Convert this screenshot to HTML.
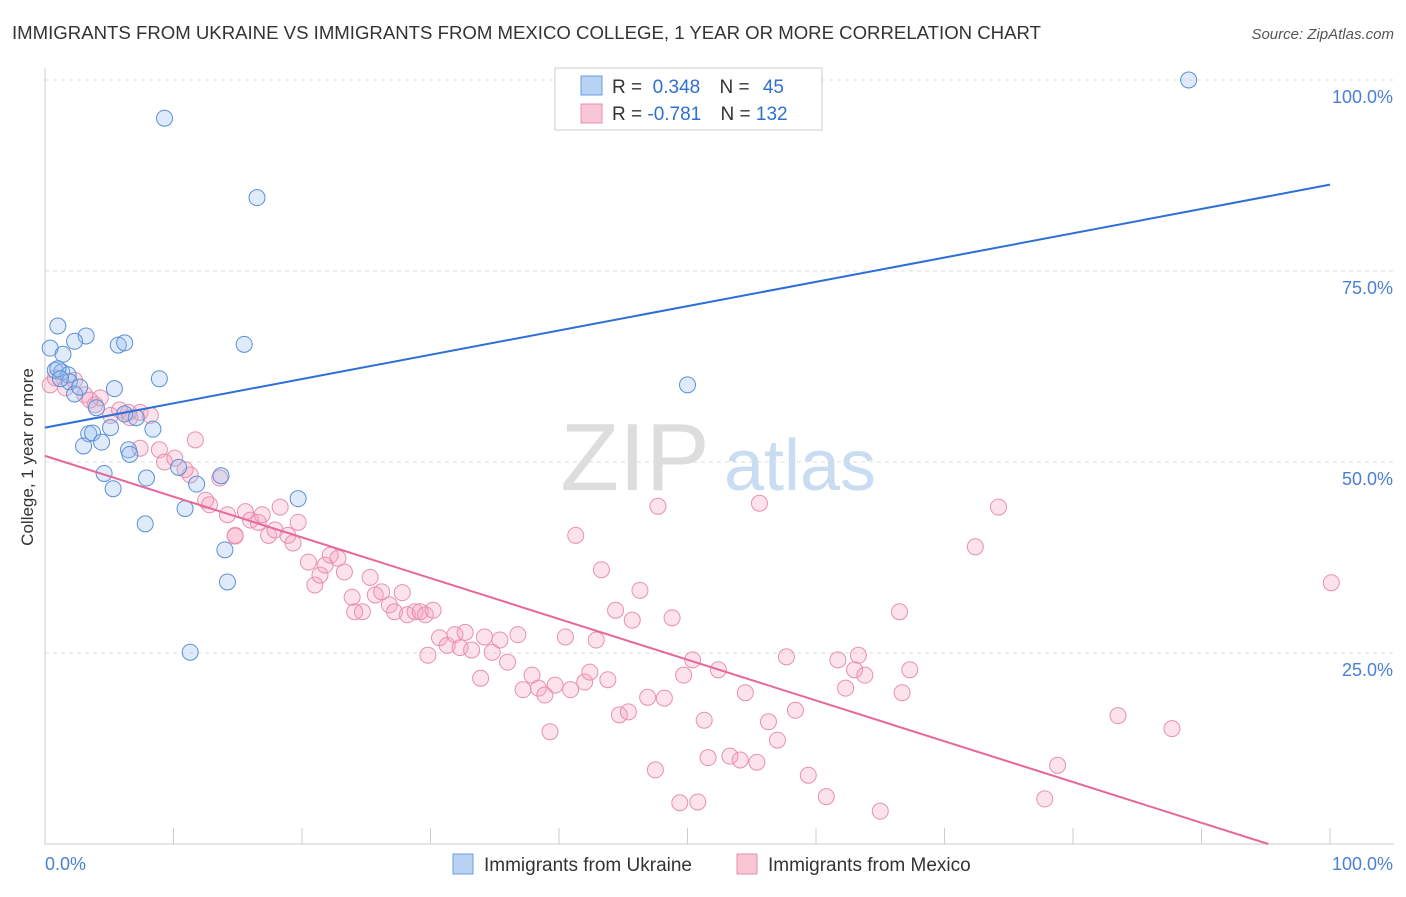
<!DOCTYPE html>
<html><head><meta charset="utf-8"><style>
body{margin:0;background:#fff;font-family:"Liberation Sans",sans-serif;}
svg text{font-family:"Liberation Sans",sans-serif;}
</style></head><body>
<svg id="chart" width="1406" height="892" viewBox="0 0 1406 892" xmlns="http://www.w3.org/2000/svg">
<text x="12" y="39" font-size="18.6" fill="#333">IMMIGRANTS FROM UKRAINE VS IMMIGRANTS FROM MEXICO COLLEGE, 1 YEAR OR MORE CORRELATION CHART</text>
<text x="1394" y="39" font-size="15" fill="#555" font-style="italic" text-anchor="end">Source: ZipAtlas.com</text>
<text x="635" y="490" font-size="96" fill="#ddd" font-family="Liberation Serif" text-anchor="middle">ZIP</text>
<text x="800" y="490" font-size="72" fill="#c8dcf2" text-anchor="middle">atlas</text>
<g id="grid"></g>
<g id="axes"></g>
<g id="pts"></g>
<g id="lines"></g>
<text x="33" y="457" font-size="17" fill="#333" text-anchor="middle" transform="rotate(-90 33 457)">College, 1 year or more</text>
<text x="45" y="870" font-size="18" fill="#4a7fd4">0.0%</text>
<text x="1393" y="870" font-size="18" fill="#4a7fd4" text-anchor="end">100.0%</text>
<g>
<rect x="555" y="68" width="267" height="62" fill="#fff" stroke="#ccc"/>
<rect x="581" y="76" width="21" height="19" fill="#b9d3f5" stroke="#6a9be0"/>
<rect x="581" y="104" width="21" height="19" fill="#f9c6d6" stroke="#e88fb0"/>
<text x="612" y="93" font-size="19" fill="#333">R = <tspan fill="#2f6fd0">&#160;0.348</tspan>   <tspan dx="14">N = </tspan><tspan fill="#2f6fd0" dx="8">45</tspan></text>
<text x="612" y="120" font-size="19" fill="#333">R = <tspan fill="#2f6fd0">-0.781</tspan>   <tspan dx="14">N = </tspan><tspan fill="#2f6fd0">132</tspan></text>
</g>
<g>
<rect x="453" y="854" width="20" height="20" fill="#b9d3f5" stroke="#6a9be0"/>
<text x="484" y="871" font-size="19" fill="#333">Immigrants from Ukraine</text>
<rect x="737" y="854" width="20" height="20" fill="#f9c6d6" stroke="#e88fb0"/>
<text x="768" y="871" font-size="19" fill="#333">Immigrants from Mexico</text>
</g>
</svg>
<script>
const yTicks=[25,50,75,100];
const ukraineX=[9.3,16.5,89.0,1.0,3.2,2.3,5.7,6.2,15.5,0.4,1.4,8.9,50.0,0.8,1.3,1.8,1.9,5.4,2.3,4.0,6.2,7.1,5.1,8.4,3.4,3.7,3.0,4.4,6.5,6.6,4.6,7.9,10.4,13.7,11.8,5.3,19.7,10.9,7.8,14.0,14.2,11.3,1.0,1.2,2.7];
const ukraineY=[95.0,84.6,100.0,67.8,66.5,65.8,65.3,65.6,65.4,64.9,64.1,60.9,60.1,62.0,61.8,61.4,60.5,59.6,58.9,57.1,56.3,55.8,54.5,54.3,53.7,53.8,52.1,52.6,51.6,51.0,48.5,47.9,49.3,48.2,47.1,46.5,45.2,43.9,41.9,38.5,34.3,25.1,62.2,60.9,59.8];
const mexicoX=[0.4,0.8,1.6,2.3,3.1,3.9,4.3,5.1,5.8,6.6,7.4,8.2,7.4,8.9,9.3,10.1,10.9,11.7,11.3,12.5,12.8,13.6,14.2,14.8,15.6,16.0,16.6,16.9,17.4,17.9,18.3,18.9,19.3,19.7,20.5,21.0,21.4,21.8,22.2,22.8,23.3,23.9,24.1,24.7,25.3,25.7,26.2,26.8,27.2,27.8,28.2,28.8,29.2,29.6,30.2,29.8,30.7,31.3,31.9,32.3,32.7,33.2,33.9,34.2,34.8,35.4,36.0,36.8,37.2,37.9,38.4,38.9,39.3,39.7,40.5,40.9,41.3,42.0,42.4,42.9,43.3,43.8,44.4,44.7,45.4,45.7,46.3,46.9,47.5,47.7,48.2,48.8,49.4,49.7,50.4,50.8,51.3,51.6,52.4,53.3,54.1,54.5,55.4,55.6,56.3,57.0,57.7,58.4,59.4,60.8,61.7,62.3,63.0,63.3,63.8,65.0,66.5,66.7,67.3,72.4,74.2,77.8,78.8,83.5,87.7,100.1,6.5,3.5,14.8];
const mexicoY=[60.1,61.0,59.7,60.7,58.8,57.5,58.4,56.1,56.8,55.8,56.5,56.1,51.8,51.6,50.0,50.5,49.0,52.9,48.3,45.0,44.4,47.9,43.1,40.4,43.5,42.4,42.1,43.1,40.4,41.1,44.1,40.4,39.4,42.1,36.9,33.9,35.2,36.5,37.8,37.4,35.6,32.3,30.4,30.4,34.9,32.6,33.0,31.3,30.4,32.9,30.0,30.4,30.4,30.0,30.6,24.7,27.0,26.0,27.4,25.7,27.7,25.4,21.7,27.1,25.1,26.7,23.8,27.4,20.2,22.1,20.4,19.5,14.7,20.8,27.1,20.2,40.4,21.2,22.5,26.7,35.9,21.5,30.6,16.9,17.3,29.3,33.2,19.2,9.7,44.2,19.1,29.6,5.4,22.1,24.1,5.5,16.2,11.3,22.8,11.5,11.0,19.8,10.7,44.6,16.0,13.6,24.5,17.5,9.0,6.2,24.1,20.4,22.8,24.7,22.1,4.3,30.4,19.8,22.8,38.9,44.1,5.9,10.3,16.8,15.1,34.2,56.5,58.1,40.3];
const ukraineFit=[54.5,86.3];
const mexicoFit=[50.8,0];const mexicoFitEndX=95.2;

const NS="http://www.w3.org/2000/svg";
const X0=45,X1=1330,Y0=844,Y100=80;
const xs=v=>X0+(X1-X0)*v/100;
const ys=v=>Y0-(Y0-Y100)*v/100;
function mk(t,a,p){const e=document.createElementNS(NS,t);for(const k in a)e.setAttribute(k,a[k]);p.appendChild(e);return e;}
const grid=document.getElementById('grid'),axes=document.getElementById('axes'),pts=document.getElementById('pts'),lines=document.getElementById('lines');
yTicks.forEach(t=>{
 const l=mk('line',{x1:45,x2:1394,y1:ys(t),y2:ys(t),stroke:'#ddd','stroke-dasharray':'4 4'},grid);
 
 
 const tx=mk('text',{x:1393,y:ys(t)+23,'font-size':18,fill:'#4a7fd4','text-anchor':'end'},grid);
 tx.textContent=t.toFixed(1)+'%';
 
 
});
const ax=mk('line',{x1:45,x2:45,y1:68,y2:844,stroke:'#ccc'},axes);


const bx=mk('line',{x1:45,x2:1394,y1:844,y2:844,stroke:'#ccc'},axes);


for(let i=1;i<=10;i++){const tk=mk('line',{x1:xs(i*10),x2:xs(i*10),y1:828,y2:844,stroke:'#ccc'},axes);
 
 }
mexicoX.forEach((x,i)=>{const c=mk('circle',{cx:xs(x),cy:ys(mexicoY[i]),r:8,fill:'rgba(244,160,190,0.3)',stroke:'#e890b0','stroke-width':1},pts);
 
 });
ukraineX.forEach((x,i)=>{const c=mk('circle',{cx:xs(x),cy:ys(ukraineY[i]),r:8,fill:'rgba(150,190,240,0.3)',stroke:'#5b8fd8','stroke-width':1},pts);
 
 });
const ul=mk('line',{x1:xs(0),y1:ys(ukraineFit[0]),x2:xs(100),y2:ys(ukraineFit[1]),stroke:'#2c6fd6','stroke-width':2},lines);


const ml=mk('line',{x1:xs(0),y1:ys(mexicoFit[0]),x2:xs(mexicoFitEndX),y2:ys(mexicoFit[1]),stroke:'#e8679a','stroke-width':2},lines);


</script>
</body></html>
